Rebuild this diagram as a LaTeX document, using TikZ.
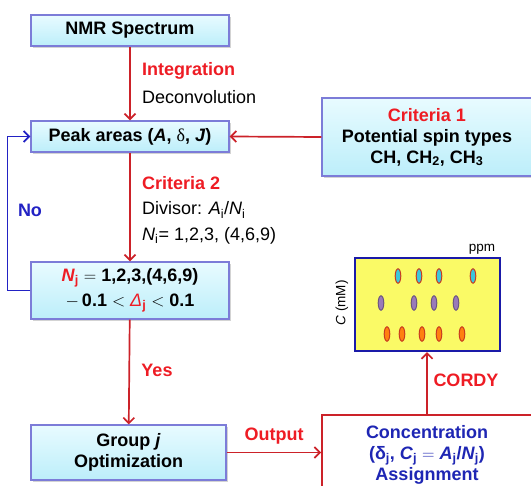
\documentclass[tikz,border=0pt]{standalone}
\usepackage{fontspec}
\setmainfont{Liberation Sans}
\newfontfamily\grkfont{Liberation Serif}
\usepackage{tikz}
\usetikzlibrary{arrows.meta, shadows, shadings}
\definecolor{flowred}{HTML}{CC2229}
\definecolor{labelred}{HTML}{EE1C24}
\definecolor{loopblue}{HTML}{2222C4}
\definecolor{boxedge}{HTML}{7C7CD8}
\definecolor{boxtop}{HTML}{E8FBFF}
\definecolor{boxbot}{HTML}{BCEEFA}
\definecolor{plotyel}{HTML}{FAFA66}
\definecolor{plotedge}{HTML}{1A1AA8}
\definecolor{dotcyan}{HTML}{3CC6DA}
\definecolor{dotpurple}{HTML}{9A7AB8}
\definecolor{dotorange}{HTML}{FF8010}
\definecolor{dotrim}{HTML}{C83A20}
\definecolor{concblue}{HTML}{1E26B4}
\newcommand{\bigtxt}{\fontsize{18}{21}\selectfont}
\newcommand{\widetxt}{\fontsize{18}{25}\selectfont}

\begin{document}
\begin{tikzpicture}[x=1pt, y=-1pt, >={Straight Barb[length=5.5pt,width=11pt]}]
  \tikzstyle{flow}=[draw=boxedge, line width=1.3pt, top color=boxtop,
    bottom color=boxbot, align=center, font=\bigtxt\bfseries,
    drop shadow={opacity=0.35, shadow xshift=1.8pt, shadow yshift=-1.8pt}]
  \tikzstyle{note}=[font=\bigtxt, anchor=west, inner sep=0pt]
  \tikzstyle{key}=[font=\bigtxt\bfseries, text=labelred, inner sep=0pt]
  \tikzstyle{link}=[->, flowred, line width=1.7pt]

  \useasboundingbox (0,0) rectangle (531,486);
  \clip (0,0) rectangle (531,486);

  \node[flow, minimum width=198pt, minimum height=31pt] (nmr) at (130,30.5)
    {NMR Spectrum};
  \node[flow, minimum width=198pt, minimum height=31pt] (peak) at (130,136.5)
    {Peak areas (\textit{A}, {\grkfont\mdseries δ}, \textit{J})};
  \node[flow, minimum width=210pt, minimum height=78pt] (crit) at (427,137)
    {{\color{labelred}Criteria 1}\\Potential spin types\\
     CH, CH\textsubscript{2}, CH\textsubscript{3}};
  \node[flow, minimum width=198pt, minimum height=57pt,
    font=\widetxt\bfseries] (nj) at (130,290.5)
    {{\color{labelred}\textit{N}\textsubscript{j}} $=$ 1,2,3,(4,6,9)\\
     $-$\,0.1 $<$ {\color{labelred}{\mdseries\itshape Δ}\textsubscript{j}} $<$ 0.1};
  \node[flow, minimum width=195pt, minimum height=55pt] (grp) at (128.5,452.5)
    {Group \textit{j}\\Optimization};
  \node[draw=flowred, line width=1.7pt, fill=white, text=concblue,
    minimum width=210pt, minimum height=80pt, align=center,
    font=\bigtxt\bfseries] (conc) at (427,455)
    {Concentration\\(δ\textsubscript{j}, \textit{C}\textsubscript{j} $=$
     \textit{A}\textsubscript{j}/\textit{N}\textsubscript{j})\\Assignment};

  \node[key, anchor=west] (lint) at (142,71) {Integration};
  \node[note] (ldec) at (142,97) {Deconvolution};
  \node[key, anchor=west] (lcr2) at (142,183) {Criteria 2};
  \node[note] (ldiv) at (142,210)
    {Divisor: \textit{A}\textsubscript{i}/\textit{N}\textsubscript{i}};
  \node[note] (lni) at (142,236)
    {\textit{N}\textsubscript{i}= 1,2,3, (4,6,9)};
  \node[key] (lyes) at (157,370) {Yes};
  \node[key, text=loopblue] (lno) at (30,210) {No};
  \node[key] (lout) at (274,436) {Output};
  \node[key] (lcordy) at (466,380) {CORDY};

  \node[draw=plotedge, line width=2.2pt, fill=plotyel, minimum width=145pt,
    minimum height=93pt] (plot) at (427.5,304.5) {};
  \node[font=\fontsize{13.5}{15}\selectfont] (ppm) at (482,249) {ppm};
  \node[font=\fontsize{13.5}{15}\selectfont, rotate=90] (cmm) at (342,303)
    {\textit{C} (mM)};
  \foreach \px in {398,419,439,473}
    \draw[dotrim, fill=dotcyan, line width=1pt] (\px,276) ellipse (2.8pt and 7.2pt);
  \foreach \px in {381,414,434,456}
    \draw[dotpurple!70!black, fill=dotpurple, line width=1pt] (\px,303) ellipse (2.8pt and 7.2pt);
  \foreach \px in {387,402,422,439,462}
    \draw[dotrim, fill=dotorange, line width=1pt] (\px,334) ellipse (2.8pt and 7.2pt);

  \draw[link] (nmr) -- (peak);
  \draw[link] (crit.west) -- (peak.east);
  \draw[link] (peak) -- (nj);
  \draw[link] (nj) -- (grp);
  \draw[->, loopblue, line width=1.7pt] (nj.west) -- ++(-23,0) |- (peak.west);
  \draw[link] (grp.east) -- (conc.west |- grp.east);
  \draw[link] (conc.north) -- (conc.north |- plot.south);
\end{tikzpicture}
\end{document}
